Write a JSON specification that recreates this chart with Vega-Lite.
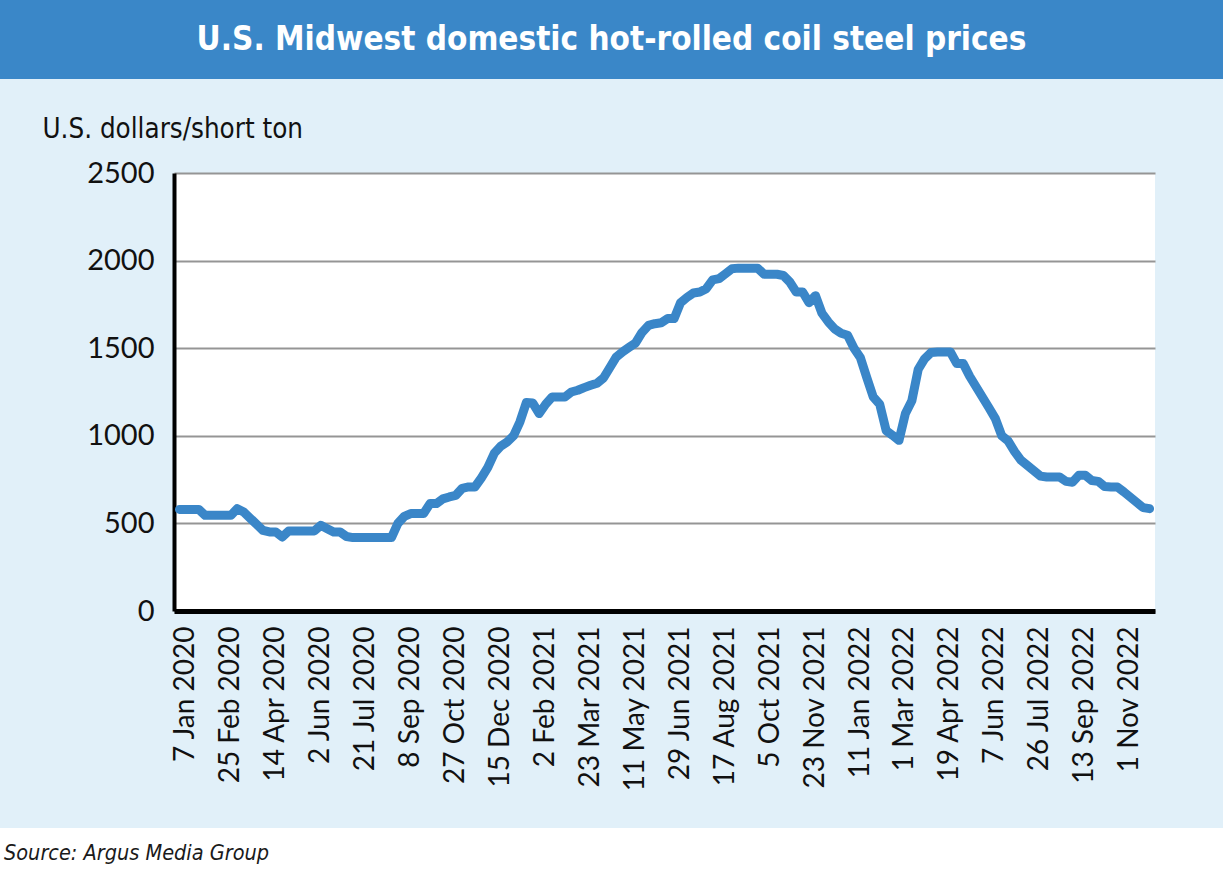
{
  "$schema": "https://vega.github.io/schema/vega-lite/v6.json",
  "background": "#e1f0f9",
  "padding": 0,
  "spacing": 36,
  "bounds": "full",
  "config": {"view": {"stroke": null}},
  "datasets": {
    "prices": [
      {"week": "7 Jan 2020", "price": 580}, {"week": "14 Jan 2020", "price": 580}, {"week": "21 Jan 2020", "price": 580}, {"week": "28 Jan 2020", "price": 580},
      {"week": "4 Feb 2020", "price": 546}, {"week": "11 Feb 2020", "price": 546}, {"week": "18 Feb 2020", "price": 546}, {"week": "25 Feb 2020", "price": 546},
      {"week": "3 Mar 2020", "price": 546}, {"week": "10 Mar 2020", "price": 584}, {"week": "17 Mar 2020", "price": 565}, {"week": "24 Mar 2020", "price": 530},
      {"week": "31 Mar 2020", "price": 495}, {"week": "7 Apr 2020", "price": 460}, {"week": "14 Apr 2020", "price": 451}, {"week": "21 Apr 2020", "price": 451},
      {"week": "28 Apr 2020", "price": 422}, {"week": "5 May 2020", "price": 457}, {"week": "12 May 2020", "price": 457}, {"week": "19 May 2020", "price": 457},
      {"week": "26 May 2020", "price": 457}, {"week": "2 Jun 2020", "price": 457}, {"week": "9 Jun 2020", "price": 489}, {"week": "16 Jun 2020", "price": 470},
      {"week": "23 Jun 2020", "price": 451}, {"week": "30 Jun 2020", "price": 451}, {"week": "7 Jul 2020", "price": 425}, {"week": "14 Jul 2020", "price": 419},
      {"week": "21 Jul 2020", "price": 419}, {"week": "28 Jul 2020", "price": 419}, {"week": "4 Aug 2020", "price": 419}, {"week": "11 Aug 2020", "price": 419},
      {"week": "18 Aug 2020", "price": 419}, {"week": "25 Aug 2020", "price": 419}, {"week": "1 Sep 2020", "price": 500}, {"week": "8 Sep 2020", "price": 540},
      {"week": "15 Sep 2020", "price": 556}, {"week": "22 Sep 2020", "price": 556}, {"week": "29 Sep 2020", "price": 556}, {"week": "6 Oct 2020", "price": 613},
      {"week": "13 Oct 2020", "price": 613}, {"week": "20 Oct 2020", "price": 640}, {"week": "27 Oct 2020", "price": 651}, {"week": "3 Nov 2020", "price": 660},
      {"week": "10 Nov 2020", "price": 700}, {"week": "17 Nov 2020", "price": 708}, {"week": "24 Nov 2020", "price": 708}, {"week": "1 Dec 2020", "price": 760},
      {"week": "8 Dec 2020", "price": 820}, {"week": "15 Dec 2020", "price": 900}, {"week": "22 Dec 2020", "price": 940}, {"week": "29 Dec 2020", "price": 965},
      {"week": "5 Jan 2021", "price": 1000}, {"week": "12 Jan 2021", "price": 1080}, {"week": "19 Jan 2021", "price": 1190}, {"week": "26 Jan 2021", "price": 1187},
      {"week": "2 Feb 2021", "price": 1127}, {"week": "9 Feb 2021", "price": 1180}, {"week": "16 Feb 2021", "price": 1221}, {"week": "23 Feb 2021", "price": 1221},
      {"week": "2 Mar 2021", "price": 1221}, {"week": "9 Mar 2021", "price": 1250}, {"week": "16 Mar 2021", "price": 1260}, {"week": "23 Mar 2021", "price": 1275},
      {"week": "30 Mar 2021", "price": 1288}, {"week": "6 Apr 2021", "price": 1300}, {"week": "13 Apr 2021", "price": 1330}, {"week": "20 Apr 2021", "price": 1390},
      {"week": "27 Apr 2021", "price": 1450}, {"week": "4 May 2021", "price": 1480}, {"week": "11 May 2021", "price": 1505}, {"week": "18 May 2021", "price": 1530},
      {"week": "25 May 2021", "price": 1590}, {"week": "1 Jun 2021", "price": 1630}, {"week": "8 Jun 2021", "price": 1640}, {"week": "15 Jun 2021", "price": 1645},
      {"week": "22 Jun 2021", "price": 1669}, {"week": "29 Jun 2021", "price": 1669}, {"week": "6 Jul 2021", "price": 1760}, {"week": "13 Jul 2021", "price": 1790},
      {"week": "20 Jul 2021", "price": 1815}, {"week": "27 Jul 2021", "price": 1821}, {"week": "3 Aug 2021", "price": 1840}, {"week": "10 Aug 2021", "price": 1890},
      {"week": "17 Aug 2021", "price": 1897}, {"week": "24 Aug 2021", "price": 1925}, {"week": "31 Aug 2021", "price": 1954}, {"week": "7 Sep 2021", "price": 1957},
      {"week": "14 Sep 2021", "price": 1957}, {"week": "21 Sep 2021", "price": 1957}, {"week": "28 Sep 2021", "price": 1957}, {"week": "5 Oct 2021", "price": 1922},
      {"week": "12 Oct 2021", "price": 1922}, {"week": "19 Oct 2021", "price": 1922}, {"week": "26 Oct 2021", "price": 1915}, {"week": "2 Nov 2021", "price": 1878},
      {"week": "9 Nov 2021", "price": 1821}, {"week": "16 Nov 2021", "price": 1821}, {"week": "23 Nov 2021", "price": 1760}, {"week": "30 Nov 2021", "price": 1800},
      {"week": "7 Dec 2021", "price": 1700}, {"week": "14 Dec 2021", "price": 1650}, {"week": "21 Dec 2021", "price": 1610}, {"week": "28 Dec 2021", "price": 1585},
      {"week": "4 Jan 2022", "price": 1574}, {"week": "11 Jan 2022", "price": 1500}, {"week": "18 Jan 2022", "price": 1445}, {"week": "25 Jan 2022", "price": 1330},
      {"week": "1 Feb 2022", "price": 1221}, {"week": "8 Feb 2022", "price": 1180}, {"week": "15 Feb 2022", "price": 1030}, {"week": "22 Feb 2022", "price": 1003},
      {"week": "1 Mar 2022", "price": 974}, {"week": "8 Mar 2022", "price": 1127}, {"week": "15 Mar 2022", "price": 1200}, {"week": "22 Mar 2022", "price": 1380},
      {"week": "29 Mar 2022", "price": 1440}, {"week": "5 Apr 2022", "price": 1475}, {"week": "12 Apr 2022", "price": 1478}, {"week": "19 Apr 2022", "price": 1478},
      {"week": "26 Apr 2022", "price": 1478}, {"week": "3 May 2022", "price": 1412}, {"week": "10 May 2022", "price": 1412}, {"week": "17 May 2022", "price": 1340},
      {"week": "24 May 2022", "price": 1280}, {"week": "31 May 2022", "price": 1220}, {"week": "7 Jun 2022", "price": 1160}, {"week": "14 Jun 2022", "price": 1098},
      {"week": "21 Jun 2022", "price": 1000}, {"week": "28 Jun 2022", "price": 970}, {"week": "5 Jul 2022", "price": 910}, {"week": "12 Jul 2022", "price": 860},
      {"week": "19 Jul 2022", "price": 830}, {"week": "26 Jul 2022", "price": 800}, {"week": "2 Aug 2022", "price": 770}, {"week": "9 Aug 2022", "price": 765},
      {"week": "16 Aug 2022", "price": 765}, {"week": "23 Aug 2022", "price": 765}, {"week": "30 Aug 2022", "price": 740}, {"week": "6 Sep 2022", "price": 735},
      {"week": "13 Sep 2022", "price": 775}, {"week": "20 Sep 2022", "price": 775}, {"week": "27 Sep 2022", "price": 745}, {"week": "4 Oct 2022", "price": 740},
      {"week": "11 Oct 2022", "price": 710}, {"week": "18 Oct 2022", "price": 708}, {"week": "25 Oct 2022", "price": 708}, {"week": "1 Nov 2022", "price": 680},
      {"week": "8 Nov 2022", "price": 650}, {"week": "15 Nov 2022", "price": 620}, {"week": "22 Nov 2022", "price": 590}, {"week": "29 Nov 2022", "price": 584}
    ]
  },
  "vconcat": [
    {
      "width": 1223,
      "height": 79,
      "view": {"fill": "#3a87c8", "stroke": null},
      "data": {"values": [{"t": "U.S. Midwest domestic hot-rolled coil steel prices"}]},
      "mark": {"type": "text", "font": "DejaVu Sans Condensed", "fontWeight": "bold", "fontSize": 33, "color": "#ffffff", "baseline": "middle", "align": "center"},
      "encoding": {"text": {"field": "t"}}
    },
    {
      "bounds": "flush",
      "spacing": 0,
      "hconcat": [
        {
          "width": 174,
          "height": 438,
          "data": {"values": [{"s": ""}]},
          "mark": {"type": "text", "text": ""},
          "encoding": {}
        },
        {
          "width": 981,
          "height": 438,
          "view": {"fill": "#ffffff", "stroke": null},
          "data": {"name": "prices"},
          "mark": {"type": "line", "color": "#3a86c8", "strokeWidth": 9, "strokeJoin": "round", "strokeCap": "round"},
          "encoding": {
            "x": {
              "field": "week",
              "type": "ordinal",
              "sort": null,
              "scale": {"type": "point", "padding": 0.85},
              "axis": {
                "title": null,
                "values": ["7 Jan 2020", "25 Feb 2020", "14 Apr 2020", "2 Jun 2020", "21 Jul 2020", "8 Sep 2020", "27 Oct 2020", "15 Dec 2020", "2 Feb 2021", "23 Mar 2021", "11 May 2021", "29 Jun 2021", "17 Aug 2021", "5 Oct 2021", "23 Nov 2021", "11 Jan 2022", "1 Mar 2022", "19 Apr 2022", "7 Jun 2022", "26 Jul 2022", "13 Sep 2022", "1 Nov 2022"],
                "labelAngle": -90,
                "labelAlign": "right",
                "labelBaseline": "middle",
                "labelPadding": 15,
                "labelOffset": 6,
                "labelFont": "Lato",
                "labelFontSize": 28,
                "labelColor": "#111111",
                "labelOverlap": false,
                "ticks": false,
                "tickSize": 0,
                "grid": false,
                "domainColor": "#000000",
                "domainWidth": 5,
                "minExtent": 176
              }
            },
            "y": {
              "field": "price",
              "type": "quantitative",
              "scale": {"domain": [0, 2500], "nice": false},
              "axis": {
                "title": "U.S. dollars/short ton",
                "titleAngle": 0,
                "titleAlign": "left",
                "titleBaseline": "alphabetic",
                "titleX": -132,
                "titleY": -36,
                "titleFont": "DejaVu Sans Condensed",
                "titleFontSize": 27.5,
                "titleFontWeight": "normal",
                "titleColor": "#111111",
                "values": [0, 500, 1000, 1500, 2000, 2500],
                "format": "d",
                "labelFont": "Lato",
                "labelFontSize": 29,
                "labelColor": "#111111",
                "labelPadding": 20,
                "ticks": false,
                "tickSize": 0,
                "grid": true,
                "gridColor": "#959595",
                "gridWidth": 2,
                "domainColor": "#000000",
                "domainWidth": 4
              }
            }
          }
        }
      ]
    },
    {
      "width": 1223,
      "height": 51,
      "view": {"fill": "#ffffff", "stroke": null},
      "title": {
        "text": "Source: Argus Media Group",
        "orient": "bottom",
        "anchor": "start",
        "frame": "group",
        "offset": -36,
        "dx": 4,
        "font": "DejaVu Sans Condensed",
        "fontStyle": "italic",
        "fontWeight": "normal",
        "fontSize": 21.5,
        "color": "#1a1a1a"
      },
      "data": {"values": [{"s": ""}]},
      "mark": {"type": "text", "text": ""},
      "encoding": {}
    }
  ]
}
